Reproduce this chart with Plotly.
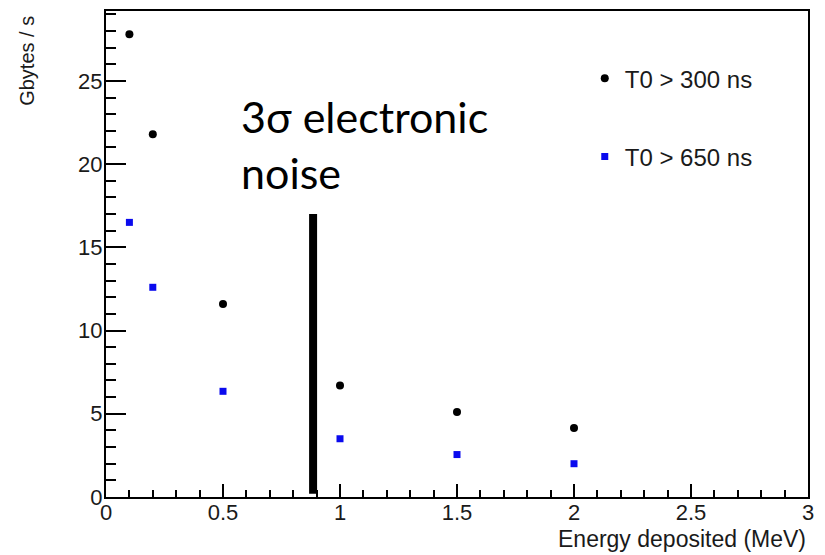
import plotly.graph_objects as go

# Data rate vs deposited-energy threshold
energy = [0.1, 0.2, 0.5, 1.0, 1.5, 2.0]
rate_t0_300 = [27.8, 21.8, 11.6, 6.7, 5.1, 4.15]
rate_t0_650 = [16.5, 12.6, 6.35, 3.5, 2.55, 2.0]
series_names = ["T0 > 300 ns", "T0 > 650 ns"]

# 3-sigma electronic noise threshold
noise_x = 0.885
noise_y = [0.2, 17.0]
noise_label = "3σ electronic<br>noise"

SANS = "Liberation Sans, Arial, Helvetica, sans-serif"

fig = go.Figure()
fig.add_trace(go.Scatter(
    x=energy, y=rate_t0_300, mode="markers", name=series_names[0],
    marker=dict(symbol="circle", size=8, color="black"),
    legendgroup="a",
))
fig.add_trace(go.Scatter(
    x=energy, y=rate_t0_650, mode="markers", name=series_names[1],
    marker=dict(symbol="square", size=7, color="#0a0aee"),
    legendgroup="b",
))
fig.add_trace(go.Scatter(
    x=[noise_x, noise_x], y=noise_y, mode="lines",
    line=dict(color="black", width=8), showlegend=False, hoverinfo="skip",
))

axis_common = dict(
    showline=True, linecolor="black", linewidth=2, mirror=True,
    ticks="inside", tickcolor="black", tickwidth=2,
    showgrid=False, zeroline=False,
    tickfont=dict(family=SANS, size=22, color="#1a1a1a"),
)

fig.update_xaxes(
    range=[0, 3], tickvals=[0, 0.5, 1, 1.5, 2, 2.5, 3],
    ticktext=["0", "0.5", "1", "1.5", "2", "2.5", "3"],
    ticklen=13, ticklabelstandoff=-5,
    minor=dict(dtick=0.1, tick0=0, ticks="inside", ticklen=7, tickwidth=2, tickcolor="black"),
    **axis_common,
)
fig.update_yaxes(
    range=[0, 29.2], tickvals=[0, 5, 10, 15, 20, 25],
    ticklen=20, ticklabelstandoff=-3,
    minor=dict(dtick=1, tick0=0, ticks="inside", ticklen=10, tickwidth=2, tickcolor="black"),
    **axis_common,
)

fig.add_annotation(
    text="Gbytes / s", xref="paper", yref="paper", x=-0.112, y=0.995,
    xanchor="center", yanchor="top", textangle=-90, showarrow=False,
    font=dict(family=SANS, size=20, color="#1a1a1a"),
)
fig.add_annotation(
    text="Energy deposited (MeV)", xref="paper", yref="paper", x=1.0, y=-0.1168,
    xanchor="right", yanchor="bottom", showarrow=False,
    font=dict(family=SANS, size=23, color="#1a1a1a"),
)
fig.add_annotation(
    text=noise_label, xref="x", yref="y", x=0.57, y=24.5,
    xanchor="left", yanchor="top", showarrow=False, align="left",
    font=dict(family="Lato, Noto Sans, sans-serif", size=43, color="black"),
)

fig.update_layout(
    width=825, height=555,
    margin=dict(l=106, r=17, t=9, b=58),
    plot_bgcolor="white", paper_bgcolor="white",
    showlegend=True,
    legend=dict(
        x=0.682, y=0.907, xanchor="left", yanchor="top",
        bgcolor="rgba(0,0,0,0)", tracegroupgap=44,
        font=dict(family=SANS, size=24, color="#1a1a1a"),
    ),
)

fig.write_html("out.html")
